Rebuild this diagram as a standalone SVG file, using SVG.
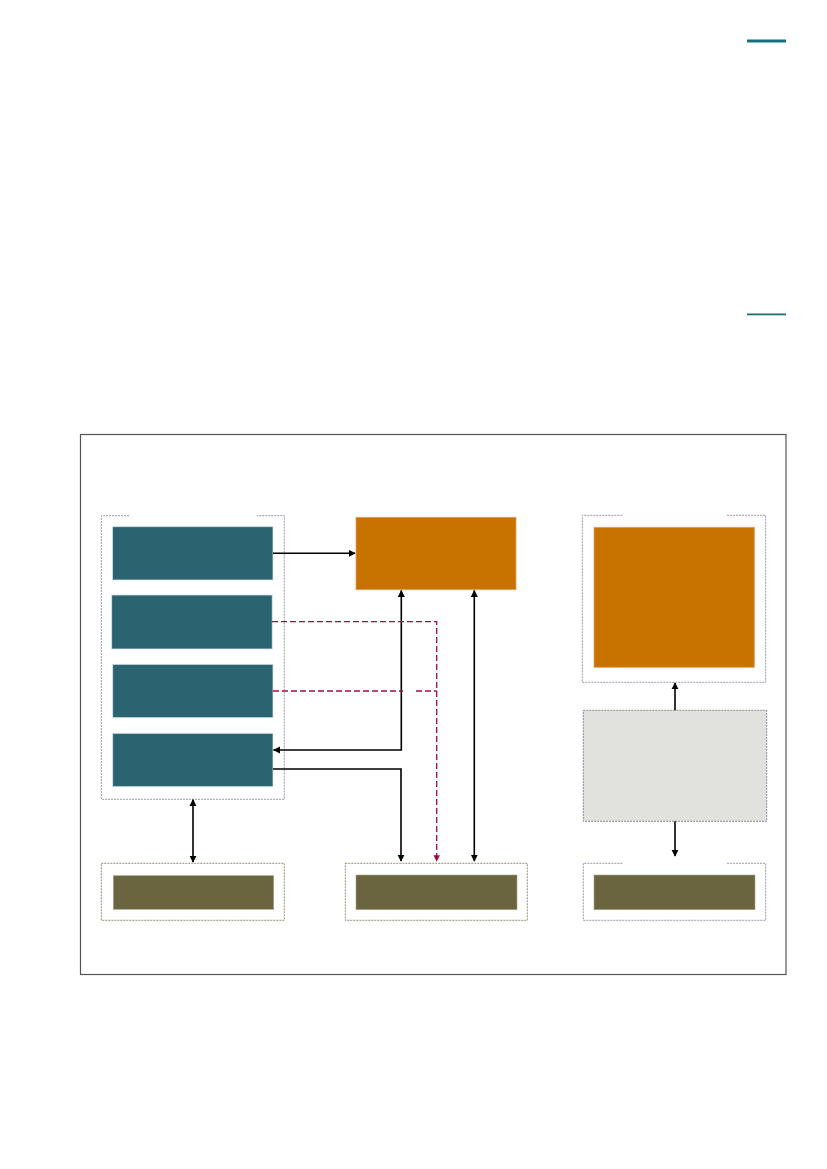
<svg xmlns="http://www.w3.org/2000/svg" width="827" height="1169" viewBox="0 0 827 1169">
<style>
.frame{fill:none;stroke:#555;stroke-width:1.2}
.grp{fill:none;stroke:#8a90a0;stroke-width:0.9;stroke-dasharray:2 1}
.grpb{fill:none;stroke:#8a8468;stroke-width:0.9;stroke-dasharray:2 1}
.teal{fill:#2B6370;stroke:#d6e4e8;stroke-width:0.8}
.orange{fill:#C87200;stroke:#e0a060;stroke-width:0.8}
.olive{fill:#6A643F;stroke:#a9a58a;stroke-width:0.6}
.grey{fill:#E1E2DD;stroke:#7a8095;stroke-width:0.9;stroke-dasharray:2 1}
.ln{fill:none;stroke:#000;stroke-width:1.6}
.dash{fill:none;stroke:#9E0E40;stroke-width:1.3;stroke-dasharray:6 3}
</style>
<defs>
<marker id="ah" viewBox="0 0 10 10" refX="9" refY="5" markerWidth="4.5" markerHeight="4.5" orient="auto-start-reverse" markerUnits="strokeWidth">
<path d="M0,0L10,5L0,10z" fill="#000"/>
</marker>
<marker id="ahr" viewBox="0 0 10 10" refX="9" refY="5" markerWidth="5" markerHeight="5" orient="auto" markerUnits="strokeWidth">
<path d="M0,0L10,5L0,10z" fill="#9E0E40"/>
</marker>
</defs>
<rect width="827" height="1169" fill="#fff"/>
<g id="header-rules">
<rect x="747" y="39.5" width="39" height="3" fill="#17707A"/>
<rect x="747" y="313.5" width="39" height="1.8" fill="#17707A"/>
</g>
<rect id="frame" class="frame" x="80.5" y="434.5" width="705.5" height="540"/>
<g id="left-group">
<path class="grp" d="M129,515.7H101.3V799.3H284.3V515.7H257"/>
</g>
<g id="teal-1"><rect class="teal" x="112.5" y="526.7" width="160.5" height="53.3"/></g>
<g id="teal-2"><rect class="teal" x="111.7" y="595" width="160.5" height="54"/></g>
<g id="teal-3"><rect class="teal" x="112.7" y="664.3" width="160.3" height="53.4"/></g>
<g id="teal-4"><rect class="teal" x="112.7" y="733.3" width="160.3" height="53.4"/></g>
<g id="orange-top"><rect class="orange" x="356" y="517.3" width="160" height="72.4"/></g>
<g id="right-top-group">
<path class="grp" d="M622.3,515.3H582.3V682.3H765.7V515.3H726"/>
<rect class="orange" x="594" y="527.3" width="160.3" height="140"/>
</g>
<g id="grey-box"><rect class="grey" x="583.3" y="710.3" width="183.4" height="111"/></g>
<g id="bottom-left">
<rect class="grpb" x="101.3" y="863.3" width="183" height="57"/>
<rect class="olive" x="113.3" y="875.7" width="160.4" height="33.6"/>
</g>
<g id="bottom-middle">
<rect class="grpb" x="345.3" y="863.3" width="182" height="57"/>
<rect class="olive" x="356" y="875" width="161" height="34.7"/>
</g>
<g id="bottom-right">
<path class="grp" d="M622.3,863.3H583.3V920.3H765.7V863.3H726"/>
<rect class="olive" x="594" y="875" width="161" height="34.7"/>
</g>
<g id="connectors">
<path class="ln" d="M273,553.3H355" marker-end="url(#ah)"/>
<path class="ln" d="M401.3,590.5V750H273.5" marker-start="url(#ah)" marker-end="url(#ah)"/>
<path class="ln" d="M273,769H401V861" marker-end="url(#ah)"/>
<path class="ln" d="M474.3,590.5V861" marker-start="url(#ah)" marker-end="url(#ah)"/>
<path class="ln" d="M193,799.8V862" marker-start="url(#ah)" marker-end="url(#ah)"/>
<path class="ln" d="M675,683V710.3"  marker-start="url(#ah)"/>
<path class="ln" d="M675,821.3V856" marker-end="url(#ah)"/>
<path class="dash" d="M272,621.7H436.7V861" marker-end="url(#ahr)"/>
<path class="dash" d="M273,691H403"/>
<path class="dash" d="M416,691H436.7"/>
</g>
</svg>
